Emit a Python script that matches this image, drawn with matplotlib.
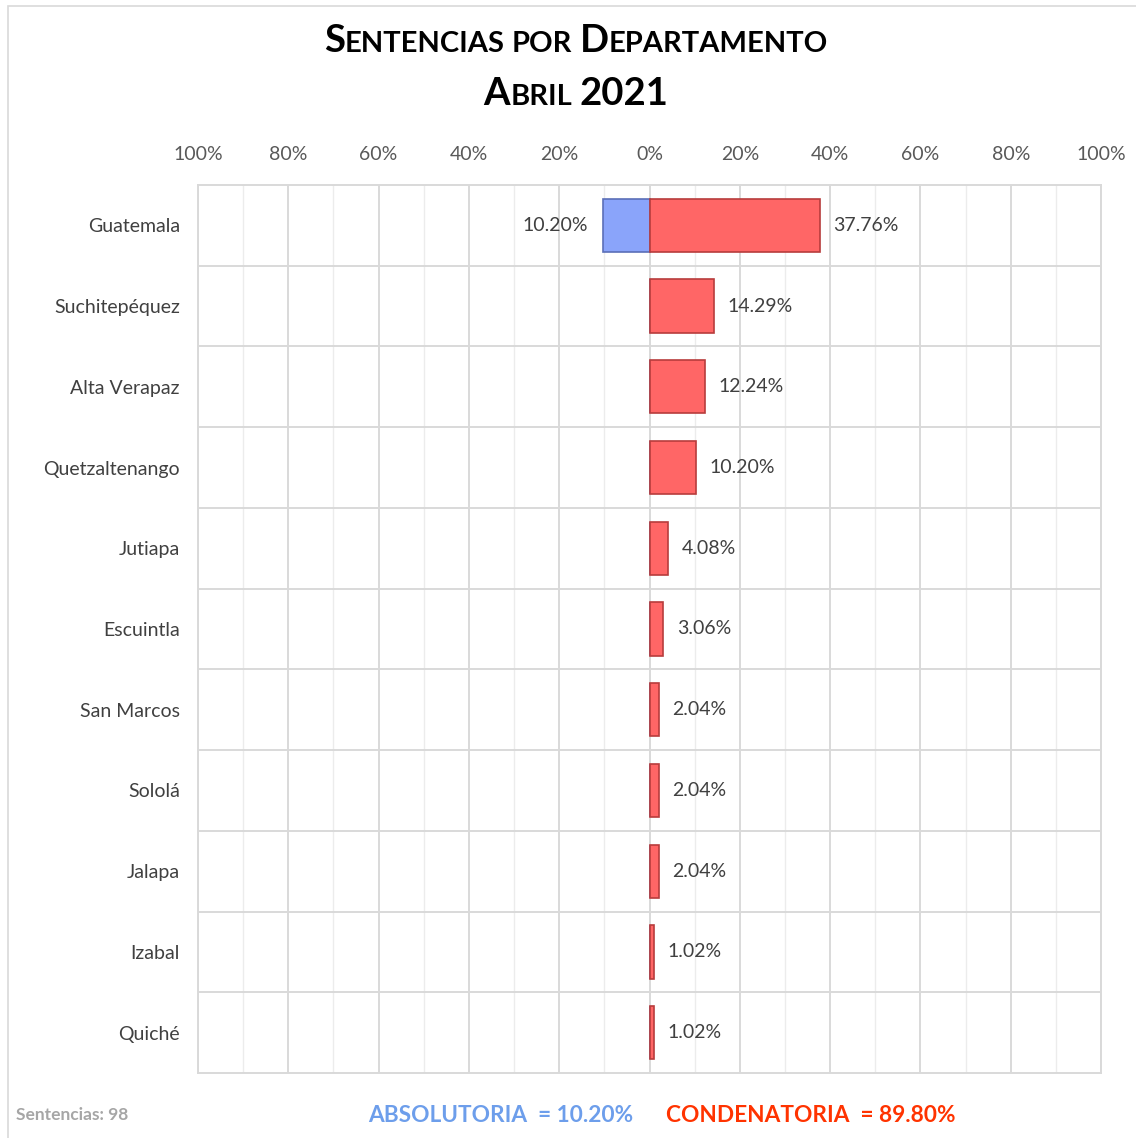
import matplotlib.pyplot as plt
import matplotlib.patches as mpatches
from matplotlib.ticker import FixedLocator

# sentencias por departamento, abril 2021
departamentos = ["Guatemala", "Suchitepéquez", "Alta Verapaz", "Quetzaltenango",
                 "Jutiapa", "Escuintla", "San Marcos", "Sololá", "Jalapa",
                 "Izabal", "Quiché"]
absolutoria = [10.20, 0, 0, 0, 0, 0, 0, 0, 0, 0, 0]
condenatoria = [37.76, 14.29, 12.24, 10.20, 4.08, 3.06, 2.04, 2.04, 2.04, 1.02, 1.02]
ticks = [-100, -80, -60, -40, -20, 0, 20, 40, 60, 80, 100]
tick_labels = ["100%", "80%", "60%", "40%", "20%", "0%", "20%", "40%", "60%", "80%", "100%"]

plt.rcParams["font.family"] = ["Lato", "DejaVu Sans"]

fig = plt.figure(figsize=(11.36, 11.38), dpi=100)
ax = fig.add_axes([198 / 1136, 1 - 1073 / 1138, 903 / 1136, 888 / 1138])

y = list(range(len(departamentos)))
ax.barh(y, [-a for a in absolutoria], height=0.66, color="#8aa4fa",
        edgecolor="#5b6fb8", linewidth=1.2, zorder=3)
ax.barh(y, condenatoria, height=0.66, color="#ff6666",
        edgecolor="#b83c3c", linewidth=1.2, zorder=3)

for i in y:
    if absolutoria[i] > 0:
        ax.text(-absolutoria[i] - 3.5, i, f"{absolutoria[i]:.2f}%", ha="right",
                va="center", fontsize=14, color="#404040")
    ax.text(condenatoria[i] + 3, i, f"{condenatoria[i]:.2f}%", ha="left",
            va="center", fontsize=14, color="#404040")

ax.set_xlim(-100, 100)
ax.set_ylim(len(departamentos) - 0.5, -0.5)
ax.xaxis.set_major_locator(FixedLocator(ticks))
ax.set_xticklabels(tick_labels)
ax.xaxis.set_minor_locator(FixedLocator(list(range(-90, 100, 20))))
ax.xaxis.tick_top()
ax.tick_params(axis="x", which="both", length=0, pad=15.5, labelsize=14, labelcolor="#595959")
ax.set_yticks(y)
ax.set_yticklabels(departamentos)
ax.tick_params(axis="y", length=0, pad=13, labelsize=14, labelcolor="#404040")
ax.yaxis.set_minor_locator(FixedLocator([i + 0.5 for i in y[:-1]]))
ax.grid(axis="x", which="major", color="#d9d9d9", linewidth=1.4, zorder=0)
ax.grid(axis="x", which="minor", color="#ececec", linewidth=1.0, zorder=0)
ax.grid(axis="y", which="minor", color="#d9d9d9", linewidth=1.4, zorder=0)
ax.tick_params(axis="y", which="minor", length=0)
for s in ax.spines.values():
    s.set_color("#d9d9d9")
    s.set_linewidth(1.4)

# borde del grafico
fig.patches.append(mpatches.Rectangle((8 / 1136, -0.01), 1.1, 1 - 6 / 1138 + 0.01,
                                      transform=fig.transFigure, fill=False,
                                      edgecolor="#d9d9d9", linewidth=1.2))


# titulo en versalitas
def small_caps(text, yc, big=27.5, small=21):
    pieces = []
    for word in text.split(" "):
        if word.isdigit():
            pieces.append((word, big))
        elif word[0].islower():
            pieces.append((word.upper(), small))
        else:
            pieces.append((word[0], big))
            if word[1:]:
                pieces.append((word[1:].upper(), small))
        pieces.append((" ", small))
    pieces = pieces[:-1]
    r = fig.canvas.get_renderer()
    objs = []
    total = 0
    for s, fs in pieces:
        t = fig.text(0, yc, s, fontsize=fs, fontweight="bold", color="black",
                     va="baseline", ha="left")
        w = t.get_window_extent(r).width if s != " " else fs * 0.35
        objs.append((t, w))
        total += w
    x = (1136 * 0.507 - total / 2)
    for t, w in objs:
        t.set_x(x / 1136)
        x += w


small_caps("Sentencias por Departamento", 1 - 52 / 1138)
small_caps("Abril 2021", 1 - 105 / 1138)

fig.text(16 / 1136, 1 - 1115 / 1138, "Sentencias: 98", fontsize=12.5,
         fontweight="bold", color="#a6a6a6", va="center")
fig.text(368 / 1136, 1 - 1116 / 1138, "ABSOLUTORIA  = 10.20%", fontsize=16.3,
         fontweight="bold", color="#6d9eeb", va="center")
fig.text(666 / 1136, 1 - 1116 / 1138, "CONDENATORIA  = 89.80%", fontsize=16.3,
         fontweight="bold", color="#ff3300", va="center")

fig.savefig("out.png", dpi=100)
